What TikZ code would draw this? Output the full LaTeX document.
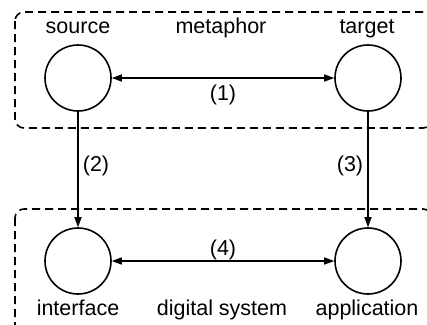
\documentclass[tikz,border=0pt]{standalone}
\usepackage{fontspec}
\setmainfont{Liberation Sans}
\usetikzlibrary{arrows.meta}
\begin{document}
\begin{tikzpicture}[x=1pt,y=-1pt,
  ball/.style={draw,circle,line width=1.6pt,minimum size=66pt,inner sep=0pt},
  zone/.style={draw,line width=1.6pt,dash pattern=on 8pt off 5pt,rounded corners=9pt},
  link/.style={line width=1.5pt,-{Triangle[length=10pt,width=7pt]}},
  both/.style={line width=1.5pt,{Triangle[length=10pt,width=7pt]}-{Triangle[length=10pt,width=7pt]}},
  lbl/.style={font=\fontsize{21.5pt}{24pt}\selectfont,inner sep=0pt,anchor=base}]
\useasboundingbox (0,0) rectangle (427,324);
\clip (0,0) rectangle (427,324);
\fill[white] (0,0) rectangle (427,324);
\draw[zone] (15,12) rectangle (432,128);
\draw[zone] (15,209) rectangle (432,335);
\node[ball] (src) at (78,78) {};
\node[ball] (tgt) at (368,78) {};
\node[ball] (ifc) at (78,261) {};
\node[ball] (app) at (368,261) {};
\node[lbl] (lsrc) at (78,33) {source};
\node[lbl] (lmet) at (221,33) {metaphor};
\node[lbl] (ltgt) at (367,33) {target};
\node[lbl] (lifc) at (78,315) {interface};
\node[lbl] (ldig) at (222,315) {digital system};
\node[lbl] (lapp) at (367,315) {application};
\draw[both] (src) -- (tgt) node[lbl,pos=0.5,yshift=-22pt] {(1)};
\draw[both] (ifc) -- (app) node[lbl,pos=0.5,yshift=6pt] {(4)};
\draw[link] (src) -- (ifc) node[lbl,pos=0.52,xshift=18pt] {(2)};
\draw[link] (tgt) -- (app) node[lbl,pos=0.52,xshift=-18pt] {(3)};
\end{tikzpicture}
\end{document}
